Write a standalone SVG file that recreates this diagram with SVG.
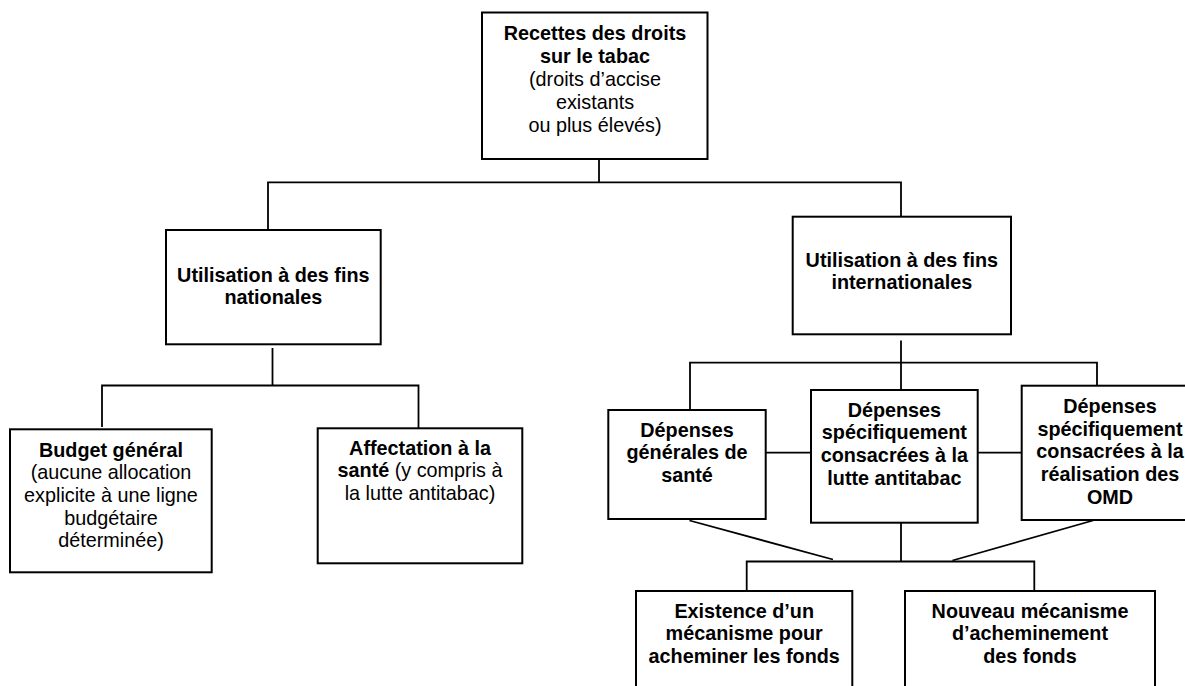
<svg xmlns="http://www.w3.org/2000/svg" width="1185" height="686" viewBox="0 0 1185 686">
  <style>
    .box { fill: #ffffff; stroke: #000000; stroke-width: 2; }
    .conn { fill: none; stroke: #000000; stroke-width: 1.8; }
    text { font-family: "Liberation Sans", Arial, sans-serif; font-size: 19.8px; fill: #000000; text-anchor: middle; }
    .b { font-weight: bold; }
  </style>
  <rect x="0" y="0" width="1185" height="686" fill="#ffffff"/>

  <g id="connectors">
    <path class="conn" d="M599,137 V182.3"/>
    <path class="conn" d="M268,230 V182.3 H901 V216.7"/>
    <path class="conn" d="M272.5,348 V385.5"/>
    <path class="conn" d="M102,427 V385.5 H418.5 V428.3"/>
    <path class="conn" d="M901,340.5 V362.7"/>
    <path class="conn" d="M690,409.5 V362.7 H1097 V385.7"/>
    <path class="conn" d="M901,362.7 V390"/>
    <path class="conn" d="M765.7,452.7 H811"/>
    <path class="conn" d="M977.7,452.7 H1021.7"/>
    <path class="conn" d="M689.5,520.5 L833,559.5"/>
    <path class="conn" d="M1093,520.5 L952.5,560.5"/>
    <path class="conn" d="M901,522.7 V561.5"/>
    <path class="conn" d="M746.7,591 V561.5 H1034.3 V591"/>
  </g>

  <g id="node-recettes">
    <rect class="box" x="482" y="12.5" width="225.5" height="146.5"/>
    <text x="595" y="40" class="b">Recettes des droits</text>
    <text x="595" y="62.9" class="b">sur le tabac</text>
    <text x="595" y="85.8">(droits d’accise</text>
    <text x="595" y="108.7">existants</text>
    <text x="595" y="131.6">ou plus élevés)</text>
  </g>

  <g id="node-nationales">
    <rect class="box" x="166" y="230" width="214.7" height="114.3"/>
    <text x="273.3" y="281.7" class="b">Utilisation à des fins</text>
    <text x="273.3" y="304.4" class="b">nationales</text>
  </g>

  <g id="node-internationales">
    <rect class="box" x="792.7" y="216.7" width="218.3" height="117.6"/>
    <text x="901.8" y="266.7" class="b">Utilisation à des fins</text>
    <text x="901.8" y="289.4" class="b">internationales</text>
  </g>

  <g id="node-budget">
    <rect class="box" x="10" y="429.3" width="201.7" height="143"/>
    <text x="111" y="456.5" class="b">Budget général</text>
    <text x="111" y="479.2">(aucune allocation</text>
    <text x="111" y="501.9">explicite à une ligne</text>
    <text x="111" y="524.6">budgétaire</text>
    <text x="111" y="547.3">déterminée)</text>
  </g>

  <g id="node-affectation">
    <rect class="box" x="317.7" y="428.3" width="204.6" height="135"/>
    <text x="420" y="454.5" class="b">Affectation à la</text>
    <text x="420" y="477.2"><tspan class="b">santé</tspan> (y compris à</text>
    <text x="420" y="499.9">la lutte antitabac)</text>
  </g>

  <g id="node-depenses-generales">
    <rect class="box" x="608.3" y="410" width="157.4" height="109"/>
    <text x="687" y="436.7" class="b">Dépenses</text>
    <text x="687" y="459.4" class="b">générales de</text>
    <text x="687" y="482.1" class="b">santé</text>
  </g>

  <g id="node-depenses-antitabac">
    <rect class="box" x="811" y="390" width="166.7" height="132.7"/>
    <text x="894.4" y="416.7" class="b">Dépenses</text>
    <text x="894.4" y="439.4" class="b">spécifiquement</text>
    <text x="894.4" y="462.1" class="b">consacrées à la</text>
    <text x="894.4" y="484.8" class="b">lutte antitabac</text>
  </g>

  <g id="node-depenses-omd">
    <rect class="box" x="1021.7" y="385.7" width="180" height="134.3"/>
    <text x="1110" y="413" class="b">Dépenses</text>
    <text x="1110" y="435.7" class="b">spécifiquement</text>
    <text x="1110" y="458.4" class="b">consacrées à la</text>
    <text x="1110" y="481.1" class="b">réalisation des</text>
    <text x="1110" y="503.8" class="b">OMD</text>
  </g>

  <g id="node-mecanisme-existant">
    <rect class="box" x="636" y="591" width="216.3" height="110"/>
    <text x="744.2" y="617.5" class="b">Existence d’un</text>
    <text x="744.2" y="640.2" class="b">mécanisme pour</text>
    <text x="744.2" y="662.9" class="b">acheminer les fonds</text>
  </g>

  <g id="node-nouveau-mecanisme">
    <rect class="box" x="905" y="591" width="250" height="110"/>
    <text x="1030" y="617.5" class="b">Nouveau mécanisme</text>
    <text x="1030" y="640.2" class="b">d’acheminement</text>
    <text x="1030" y="662.9" class="b">des fonds</text>
  </g>
</svg>
